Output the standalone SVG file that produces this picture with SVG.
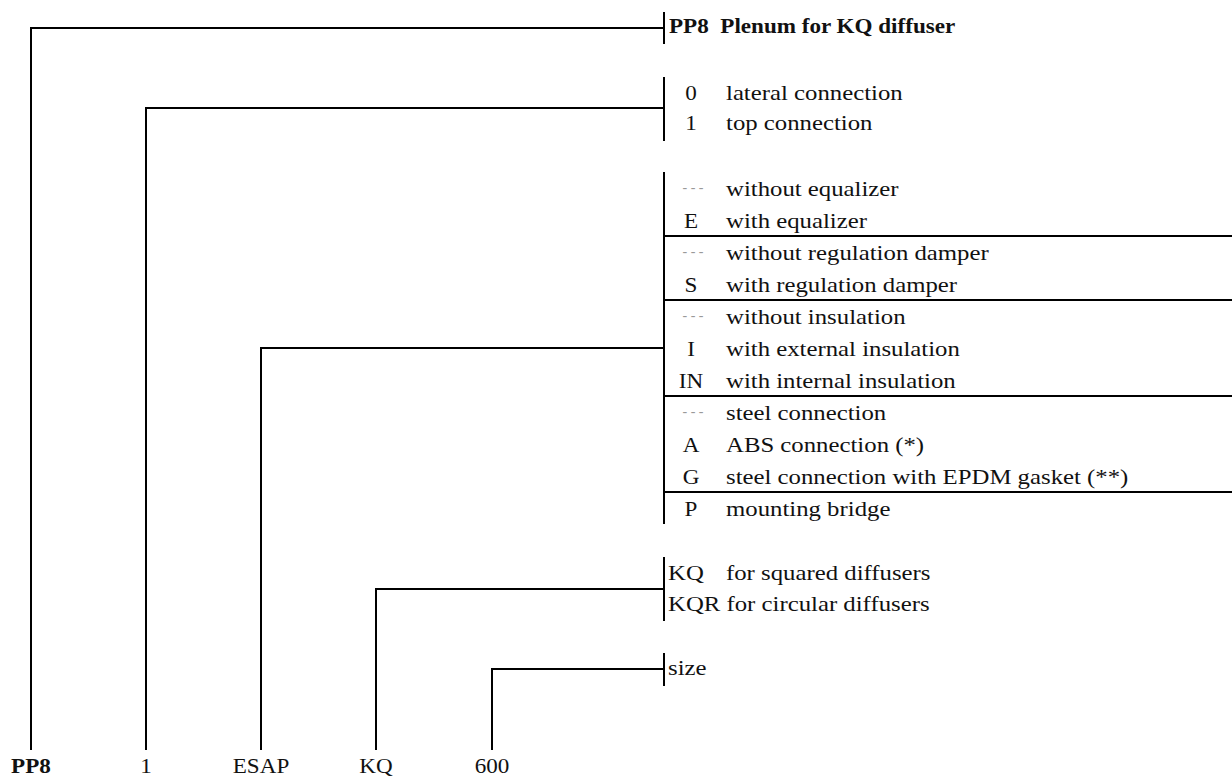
<svg xmlns="http://www.w3.org/2000/svg" width="1232" height="776" viewBox="0 0 1232 776">
<style>
text{font-family:"Liberation Serif","Times New Roman",serif;font-size:21px;fill:#111}
.b{font-weight:bold}
.c{text-anchor:middle}
.d{font-size:14px;font-style:italic;fill:#999;text-anchor:middle}
.ln{stroke:#000;stroke-width:2;fill:none}
</style>
<rect width="1232" height="776" fill="#fff"/>
<g id="connectors" class="ln">
<path d="M31 750V28H664"/>
<path d="M146 750V108H664"/>
<path d="M261 750V348H664"/>
<path d="M376 750V589H664"/>
<path d="M492 750V669H664"/>
</g>
<g id="title">
<line class="ln" x1="664" y1="12" x2="664" y2="44"/>
<text class="b" x="669" y="33" transform="matrix(1.1 0 0 1 -66.9 0)">PP8&#160; Plenum for KQ diffuser</text>
</g>
<g id="connection">
<line class="ln" x1="664" y1="77" x2="664" y2="141"/>
<g transform="matrix(1.1 0 0 1 -69.1 0)">
<text class="c" x="691" y="100">0</text>
<text class="c" x="691" y="130">1</text>
</g>
<g transform="matrix(1.18 0 0 1 -130.68 0)">
<text x="726" y="100">lateral connection</text>
<text x="726" y="130">top connection</text>
</g>
</g>
<g id="options">
<line class="ln" x1="664" y1="172" x2="664" y2="524"/>
<line class="ln" x1="664" y1="236" x2="1232" y2="236"/>
<line class="ln" x1="664" y1="300" x2="1232" y2="300"/>
<line class="ln" x1="664" y1="396" x2="1232" y2="396"/>
<line class="ln" x1="664" y1="492" x2="1232" y2="492"/>
<text class="d" x="693" y="192">- - -</text>
<text class="d" x="693" y="256">- - -</text>
<text class="d" x="693" y="320">- - -</text>
<text class="d" x="693" y="416">- - -</text>
<g transform="matrix(1.1 0 0 1 -69.1 0)">
<text class="c" x="691" y="228">E</text>
<text class="c" x="691" y="292">S</text>
<text class="c" x="691" y="356">I</text>
<text class="c" x="691" y="388">IN</text>
<text class="c" x="691" y="452">A</text>
<text class="c" x="691" y="484">G</text>
<text class="c" x="691" y="516">P</text>
</g>
<g transform="matrix(1.18 0 0 1 -130.68 0)">
<text x="726" y="196">without equalizer</text>
<text x="726" y="228">with equalizer</text>
<text x="726" y="260">without regulation damper</text>
<text x="726" y="292">with regulation damper</text>
<text x="726" y="324">without insulation</text>
<text x="726" y="356">with external insulation</text>
<text x="726" y="388">with internal insulation</text>
<text x="726" y="420">steel connection</text>
<text x="726" y="452">ABS connection (*)</text>
<text x="726" y="484">steel connection with EPDM gasket (**)</text>
<text x="726" y="516">mounting bridge</text>
</g>
</g>
<g id="diffuser">
<line class="ln" x1="664" y1="557" x2="664" y2="621"/>
<g transform="matrix(1.18 0 0 1 -120.24 0)">
<text x="668" y="580">KQ</text>
<text x="717.15" y="580">for squared diffusers</text>
<text x="668" y="611">KQR for circular diffusers</text>
</g>
</g>
<g id="size">
<line class="ln" x1="664" y1="653" x2="664" y2="686"/>
<text x="668" y="675" transform="matrix(1.18 0 0 1 -120.24 0)">size</text>
</g>
<g id="codes">
<text class="c b" x="31" y="773" transform="matrix(1.1 0 0 1 -3.1 0)">PP8</text>
<text class="c" x="146" y="773" transform="matrix(1.1 0 0 1 -14.6 0)">1</text>
<text class="c" x="261" y="773" transform="matrix(1.1 0 0 1 -26.1 0)">ESAP</text>
<text class="c" x="376" y="773" transform="matrix(1.1 0 0 1 -37.6 0)">KQ</text>
<text class="c" x="492" y="773" transform="matrix(1.1 0 0 1 -49.2 0)">600</text>
</g>
</svg>
